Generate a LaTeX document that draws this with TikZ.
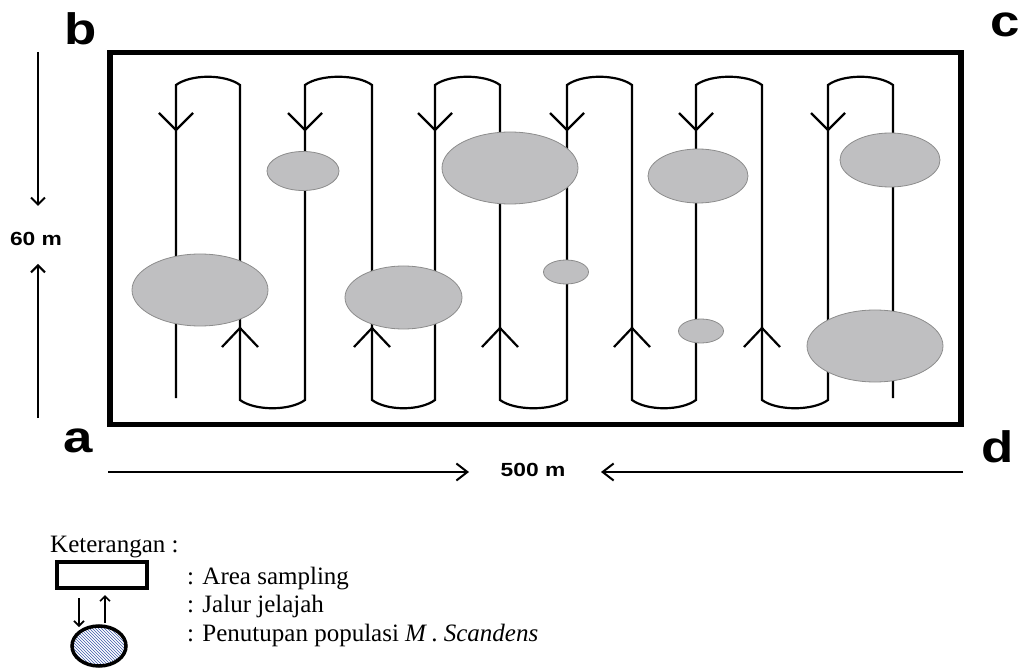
\documentclass[tikz,border=0pt]{standalone}
\usepackage{fontspec}
\setmainfont{Liberation Serif}
\newfontfamily\lblfont{Liberation Sans}
\usetikzlibrary{arrows.meta,patterns}
\definecolor{blobfill}{RGB}{191,191,193}
\definecolor{blobedge}{RGB}{140,140,140}
\definecolor{hatchblue}{RGB}{60,90,170}
\newcommand{\widetxt}[1]{\scalebox{1.2}[1]{#1}}
\begin{document}
\begin{tikzpicture}[x=1pt,y=-1pt,
  walk/.style={line width=2.2pt,line join=miter},
  chev/.style={line width=2.2pt},
  blob/.style={fill=blobfill,draw=blobedge,line width=0.8pt},
  corner/.style={font=\lblfont\bfseries\fontsize{44}{44}\selectfont,inner sep=0pt,anchor=base},
  dim/.style={font=\lblfont\bfseries\fontsize{19}{19}\selectfont,inner sep=0pt},
  sidearrow/.style={line width=2pt,-{Straight Barb[length=7pt,width=14pt,line width=2pt]}},
  bigarrow/.style={line width=2pt,-{Straight Barb[length=11pt,width=17pt,line width=2pt]}},
  legarrow/.style={line width=1.6pt,-{Straight Barb[length=5pt,width=10pt,line width=1.6pt]}},
  legtext/.style={font=\fontsize{25}{25}\selectfont,inner sep=0pt,anchor=base west}]
\useasboundingbox (0,0) rectangle (1020,668);

% sampling area
\draw[line width=5.5pt] (110,52.5) rectangle (961,424.5);

% walking path
\draw[walk] (176,398) -- (176,85)
  .. controls (191,74) and (225,74) .. (240,85) -- (240,400)
  .. controls (255,411) and (290,411) .. (305,400) -- (305,85)
  .. controls (320,74) and (357,74) .. (372,85) -- (372,400)
  .. controls (387,411) and (420,411) .. (435,400) -- (435,85)
  .. controls (450,74) and (485,74) .. (500,85) -- (500,400)
  .. controls (515,411) and (552,411) .. (567,400) -- (567,85)
  .. controls (582,74) and (617,74) .. (632,85) -- (632,400)
  .. controls (647,411) and (681,411) .. (696,400) -- (696,85)
  .. controls (711,74) and (747,74) .. (762,85) -- (762,400)
  .. controls (777,411) and (813,411) .. (828,400) -- (828,85)
  .. controls (843,74) and (878,74) .. (893,85) -- (893,398);

\foreach \x in {176,305,435,567,696,828}
  \draw[chev] (\x-17,113) -- (\x,130) -- (\x+17,113);
\foreach \x in {240,372,500,632,762}
  \draw[chev] (\x-18,347) -- (\x,328) -- (\x+18,347);

% population patches
\draw[blob] (200,290) ellipse [x radius=68, y radius=36];
\draw[blob] (303,171) ellipse [x radius=36, y radius=19.5];
\draw[blob] (403.5,297.5) ellipse [x radius=58.5, y radius=31.5];
\draw[blob] (510,168) ellipse [x radius=68, y radius=36];
\draw[blob] (566,272) ellipse [x radius=22.5, y radius=12];
\draw[blob] (698,176) ellipse [x radius=50, y radius=27];
\draw[blob] (701,331) ellipse [x radius=22.5, y radius=12];
\draw[blob] (890,160) ellipse [x radius=50, y radius=27];
\draw[blob] (875,346) ellipse [x radius=68, y radius=36];

% corner labels
\node[corner] (b) at (81,45) {\widetxt{b}};
\node[corner] (c) at (1005,37) {\widetxt{c}};
\node[corner] (a) at (78,452) {\widetxt{a}};
\node[corner] (d) at (998,462) {\widetxt{d}};

% dimensions
\node[dim] (h) at (36,239) {\widetxt{60 m}};
\coordinate (htop) at (38,52);
\coordinate (hbot) at (38,418);
\draw[sidearrow] (htop) -- (38,206);
\draw[sidearrow] (hbot) -- (38,264);
\node[dim] (w) at (533,470) {\widetxt{500 m}};
\coordinate (wl) at (108,472);
\coordinate (wr) at (963,472);
\draw[bigarrow] (wl) -- (469,472);
\draw[bigarrow] (wr) -- (601,472);

% legend
\node[legtext] (ket) at (50,552) {Keterangan :};
\draw[line width=4pt] (56.5,561.5) rectangle (146.5,587.5);
\draw[legarrow] (79,598) -- (79,627);
\draw[legarrow] (105,623) -- (105,595);
\draw[line width=3.5pt,pattern=north west lines,pattern color=hatchblue] (99,646) ellipse [x radius=27, y radius=20];
\node[legtext] (l1) at (187,584) {: Area sampling};
\node[legtext] (l2) at (187,612) {: Jalur jelajah};
\node[legtext] (l3) at (187,641) {: Penutupan populasi \textit{M}\,. \textit{Scandens}};
\end{tikzpicture}
\end{document}
